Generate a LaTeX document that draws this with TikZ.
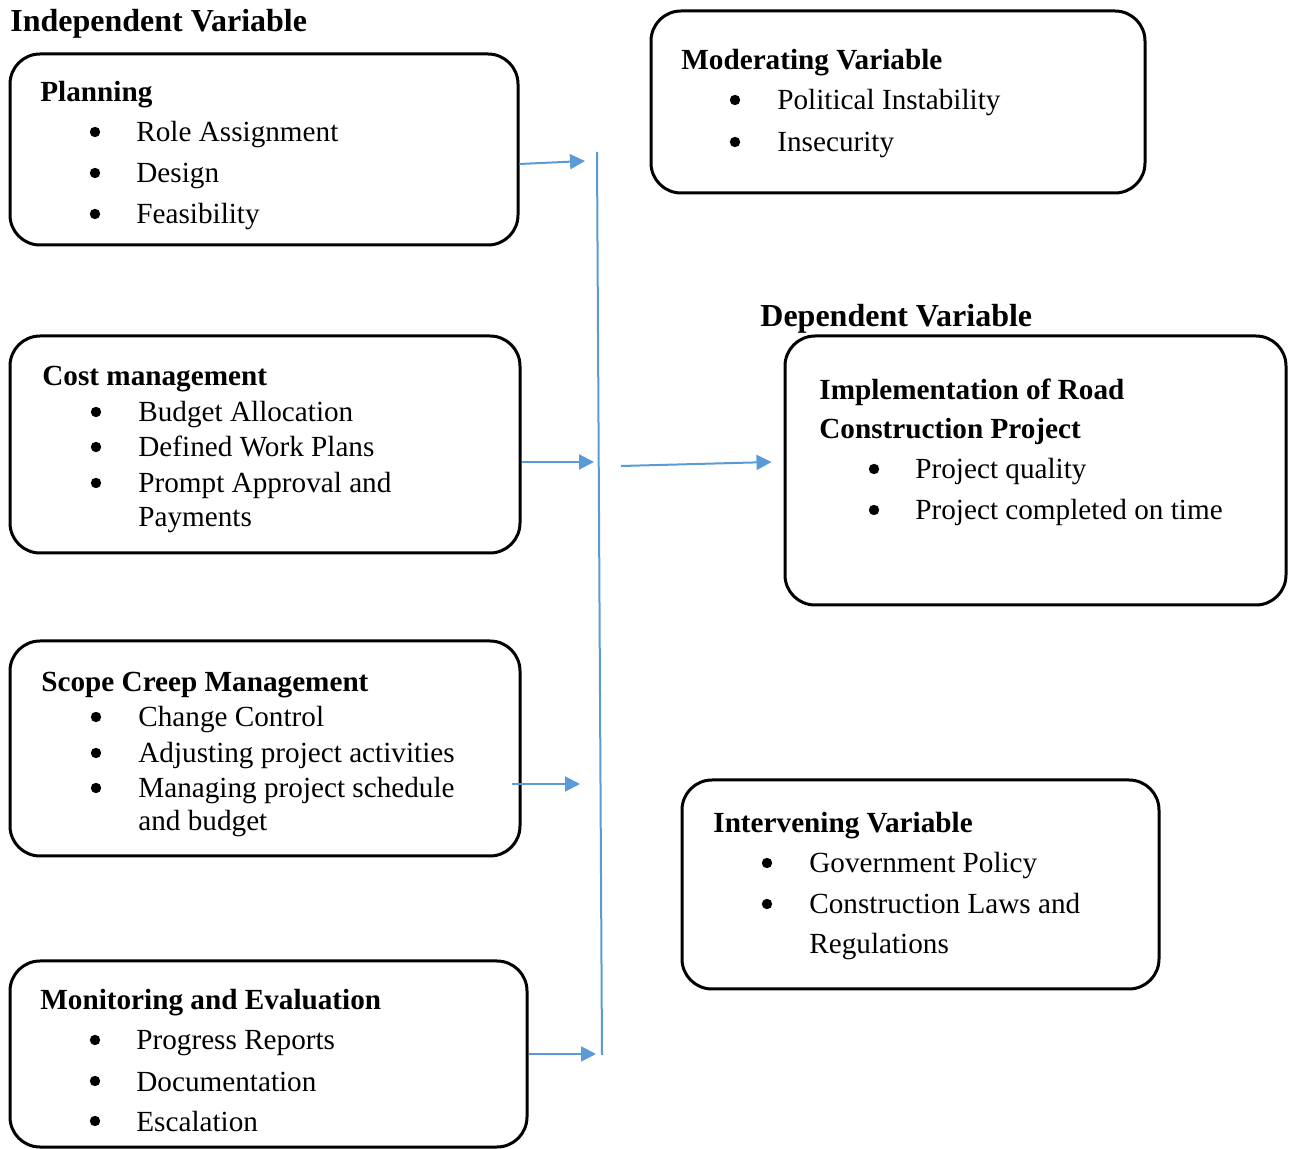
\documentclass[tikz,border=0pt]{standalone}
\usepackage{fontspec}
\setmainfont{Liberation Serif}
\usepackage{tikz}
\usetikzlibrary{%
  arrows.meta,%
  calc%
}
\definecolor{linkblue}{HTML}{5B9BD5}
\newcommand{\boxfont}{\fontsize{14.6}{17}\selectfont}
\tikzset{>={Triangle[length=7.5pt,width=7.5pt]},%
  varbox/.style={draw,line width=1.5pt,rounded corners=15pt,inner sep=0pt},%
  vartitle/.style={anchor=base west,inner sep=0pt,
    font=\fontsize{16}{19}\selectfont\bfseries},%
  boxhead/.style={anchor=base west,inner sep=0pt,font=\boxfont\bfseries},%
  itemtext/.style={anchor=base west,inner sep=0pt,font=\boxfont},%
  bulletmark/.style={circle,fill,inner sep=0pt,minimum size=5.2pt,yshift=5pt},%
  link/.style={draw=linkblue,line width=1pt,->},%
  bus/.style={draw=linkblue,line width=1pt}}

\begin{document}
\begin{tikzpicture}[x=0.5pt,y=-0.5pt]
  \useasboundingbox (0,0) rectangle (1292,1149);
  % boxes
  \node[varbox,minimum width=254pt,minimum height=95.5pt] (plan) at (264,149.5) {};
  \node[varbox,minimum width=247pt,minimum height=91pt] (mod) at (898,102) {};
  \node[varbox,minimum width=250.5pt,minimum height=134.5pt] (dep) at (1035.5,470.5) {};
  \node[varbox,minimum width=255pt,minimum height=108.5pt] (cost) at (265,444.5) {};
  \node[varbox,minimum width=255pt,minimum height=107.5pt] (scope) at (265,748.5) {};
  \node[varbox,minimum width=238.5pt,minimum height=104.5pt] (inter) at (920.5,884.5) {};
  \node[varbox,minimum width=258.5pt,minimum height=93pt] (mon) at (268.5,1054) {};

  % titles
  \node[vartitle] (indeptitle) at (10,32) {Independent Variable};
  \node[vartitle] (deptitle) at (760,327) {Dependent Variable};

  % planning
  \node[boxhead] (planhd) at (40,102) {Planning};
  \node[bulletmark] (planb1) at (95,142) {};
  \node[itemtext] (plan1) at (136,142) {Role Assignment};
  \node[bulletmark] (planb2) at (95,183) {};
  \node[itemtext] (plan2) at (136,183) {Design};
  \node[bulletmark] (planb3) at (95,224) {};
  \node[itemtext] (plan3) at (136,224) {Feasibility};

  % moderating
  \node[boxhead] (modhd) at (681,70) {Moderating Variable};
  \node[bulletmark] (modb1) at (735,110) {};
  \node[itemtext] (mod1) at (777,110) {Political Instability};
  \node[bulletmark] (modb2) at (735,152) {};
  \node[itemtext] (mod2) at (777,152) {Insecurity};

  % dependent
  \node[boxhead] (dephd) at (819,400) {Implementation of Road};
  \node[boxhead] (dephdb) at (819,439) {Construction Project};
  \node[bulletmark] (depb1) at (874,479) {};
  \node[itemtext] (dep1) at (915,479) {Project quality};
  \node[bulletmark] (depb2) at (874,520) {};
  \node[itemtext] (dep2) at (915,520) {Project completed on time};

  % cost management
  \node[boxhead] (costhd) at (42,386) {Cost management};
  \node[bulletmark] (costb1) at (96,422) {};
  \node[itemtext] (cost1) at (138,422) {Budget Allocation};
  \node[bulletmark] (costb2) at (96,457) {};
  \node[itemtext] (cost2) at (138,457) {Defined Work Plans};
  \node[bulletmark] (costb3) at (96,493) {};
  \node[itemtext] (cost3) at (138,493) {Prompt Approval and};
  \node[itemtext] (cost3b) at (138,527) {Payments};

  % scope creep
  \node[boxhead] (scopehd) at (41,692) {Scope Creep Management};
  \node[bulletmark] (scopeb1) at (96,727) {};
  \node[itemtext] (scope1) at (138,727) {Change Control};
  \node[bulletmark] (scopeb2) at (96,763) {};
  \node[itemtext] (scope2) at (138,763) {Adjusting project activities};
  \node[bulletmark] (scopeb3) at (96,798) {};
  \node[itemtext] (scope3) at (138,798) {Managing project schedule};
  \node[itemtext] (scope3b) at (138,831) {and budget};

  % intervening
  \node[boxhead] (interhd) at (713,833) {Intervening Variable};
  \node[bulletmark] (interb1) at (767,873) {};
  \node[itemtext] (inter1) at (809,873) {Government Policy};
  \node[bulletmark] (interb2) at (767,914) {};
  \node[itemtext] (inter2) at (809,914) {Construction Laws and};
  \node[itemtext] (inter2b) at (809,954) {Regulations};

  % monitoring
  \node[boxhead] (monhd) at (40,1009) {Monitoring and Evaluation};
  \node[bulletmark] (monb1) at (95,1050) {};
  \node[itemtext] (mon1) at (136,1050) {Progress Reports};
  \node[bulletmark] (monb2) at (95,1091) {};
  \node[itemtext] (mon2) at (136,1091) {Documentation};
  \node[bulletmark] (monb3) at (95,1131) {};
  \node[itemtext] (mon3) at (136,1131) {Escalation};

  % connectors
  \coordinate (bustop) at (597,152);
  \coordinate (busbot) at (602,1055);
  \coordinate (t1) at (585,161);
  \coordinate (t2) at (594,462);
  \coordinate (t3) at (580,784);
  \coordinate (t4) at (596,1054);
  \coordinate (s5) at (621,466);
  \draw[bus] (bustop) -- (busbot);
  \draw[link] ($(plan.east)+(0,14.5)$) -- (t1);
  \draw[link] ($(cost.east)+(0,17.5)$) -- (t2);
  \draw[link] ($(scope.east)+(-10,35.5)$) -- (t3);
  \draw[link] (mon.east) -- (t4);
  \draw[link] (s5) -- ($(dep.west)+(-12,-8.5)$);
\end{tikzpicture}
\end{document}
